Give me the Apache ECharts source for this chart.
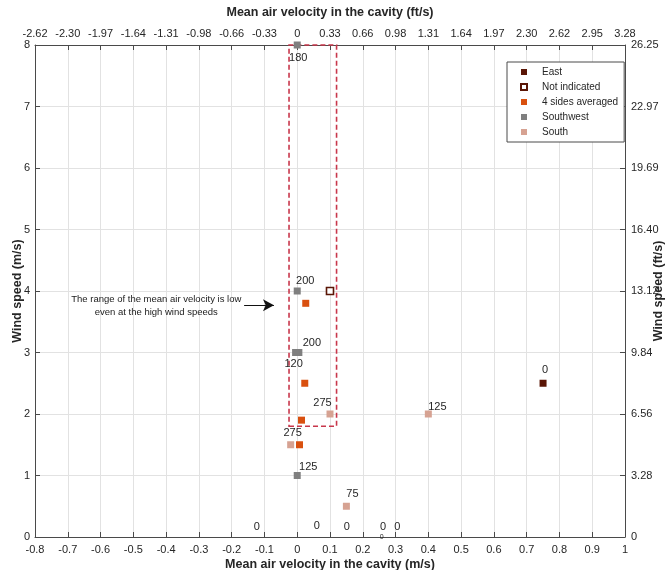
<!DOCTYPE html>
<html>
<head>
<meta charset="utf-8">
<script src="https://cdn.jsdelivr.net/npm/echarts@6/dist/echarts.min.js"></script>
<style>
html,body{margin:0;padding:0;background:#fff;}
#c{width:670px;height:570px;}
</style>
</head>
<body>
<div id="c"></div>
<script>
// ---- data (x: mean air velocity m/s, y: wind speed m/s, label: wind direction) ----
var seriesNames = ['East', 'Not indicated', '4 sides averaged', 'Southwest', 'South'];
var eastX = [0.75];
var eastY = [2.5];
var eastLabels = ['0'];
var notIndicatedX = [0.1];
var notIndicatedY = [4];
var avgX = [0.026, 0.023, 0.013, 0.007];
var avgY = [3.8, 2.5, 1.9, 1.5];
var southwestX = [0, 0, 0.005, -0.005, 0];
var southwestY = [8, 4, 3, 3, 1];
var southwestLabels = ['180', '200', '200', '120', '125'];
var southX = [0.1, 0.4, -0.02, 0.15];
var southY = [2, 2, 1.5, 0.5];
var southLabels = ['275', '125', '275', '75'];
var calmX = [-0.123, 0.06, 0.151, 0.262, 0.305, 0.258];
var calmY = [0, 0, 0, 0, 0, 0];
var calmLabels = ['0', '0', '0', '0', '0', '0'];
// highlighted range box [x0, y0, x1, y1]
var boxRange = [-0.025, 1.8, 0.12, 8];
// annotation arrow [xStart, xEnd, y]
var arrowSpec = [-0.162, -0.071, 3.77];
var noteLines = ['The range of the mean air velocity is low', 'even at the high wind speeds'];
var MS_TO_FTS = 3.28084;

// ---- styles ----
var eastOffsets = [[2, -13]];
var southwestOffsets = [[1, 12.5], [8, -10], [13, -10], [-2, 11], [11, -9]];
var southOffsets = [[-7.5, -11], [9, -7], [2, -12], [6, -12]];
var calmOffsets = [[0, -10], [0, -11], [0, -10], [0, -10], [0, -10], [0, 0]];
var calmFont = [11, 11, 11, 11, 11, 7];

var FONT = 'Liberation Sans, Arial, Helvetica, sans-serif';
var TXT = '#262626';

function pts(xs, ys, labels, offsets, fonts) {
  return xs.map(function (x, i) {
    var d = { value: [x, ys[i]] };
    if (labels) {
      d.label = { show: true, formatter: labels[i], position: 'inside',
        offset: offsets[i], fontSize: fonts ? fonts[i] : 11, color: TXT, fontFamily: FONT,
        textBorderWidth: 0, textBorderColor: 'transparent', opacity: 1 };
    }
    return d;
  });
}

function ftFmt(v) {
  if (Math.abs(v) < 1e-9) return '0';
  return (v * MS_TO_FTS).toFixed(2);
}
function mFmt(v) {
  var r = Math.round(v * 10) / 10;
  return String(r);
}

var chart = echarts.init(document.getElementById('c'), null, { renderer: 'canvas' });
var axisLine = { show: true, onZero: false, lineStyle: { color: '#4a4a4a', width: 1 } };
var axisTick = { show: true, inside: true, length: 5, lineStyle: { color: '#4a4a4a' } };
var lbl = { color: TXT, fontSize: 11, fontFamily: FONT };
var nameStyle = { color: TXT, fontSize: 12.5, fontWeight: 'bold', fontFamily: FONT };

var option = {
  animation: false,
  backgroundColor: '#ffffff',
  textStyle: { fontFamily: FONT },
  grid: { left: 35, right: 45, top: 45, bottom: 33, containLabel: false, outerBoundsMode: 'none' },
  legend: {
    data: seriesNames,
    orient: 'vertical',
    left: 507, top: 62,
    itemWidth: 6, itemHeight: 6, itemGap: 1,
    padding: [3, 6, 3, 13],
    borderColor: '#4a4a4a', borderWidth: 1,
    backgroundColor: '#fff',
    icon: 'rect',
    textStyle: { fontSize: 10, color: TXT, fontFamily: FONT, padding: [0, 0, 0, 10], lineHeight: 14 }
  },
  xAxis: [
    { type: 'value', position: 'bottom', min: -0.8, max: 1, interval: 0.1,
      name: 'Mean air velocity in the cavity (m/s)', nameLocation: 'middle', nameGap: 21,
      nameMoveOverlap: false,
      nameTextStyle: nameStyle,
      axisLine: axisLine, axisTick: axisTick,
      axisLabel: Object.assign({ margin: 7, formatter: mFmt }, lbl),
      splitLine: { show: true, lineStyle: { color: '#e2e2e2' } } },
    { type: 'value', position: 'top', min: -0.8, max: 1, interval: 0.1,
      name: 'Mean air velocity in the cavity (ft/s)', nameLocation: 'middle', nameGap: 26,
      nameMoveOverlap: false,
      nameTextStyle: nameStyle,
      axisLine: axisLine, axisTick: axisTick,
      axisLabel: Object.assign({ margin: 6, formatter: ftFmt }, lbl),
      splitLine: { show: false } }
  ],
  yAxis: [
    { type: 'value', position: 'left', min: 0, max: 8, interval: 1,
      name: 'Wind speed (m/s)', nameLocation: 'middle', nameGap: 11,
      nameMoveOverlap: false,
      nameTextStyle: nameStyle,
      axisLine: axisLine, axisTick: axisTick,
      axisLabel: Object.assign({ margin: 5 }, lbl),
      splitLine: { show: true, lineStyle: { color: '#e2e2e2' } } },
    { type: 'value', position: 'right', min: 0, max: 8, interval: 1,
      name: 'Wind speed (ft/s)', nameLocation: 'middle', nameGap: 27,
      nameMoveOverlap: false,
      nameTextStyle: nameStyle,
      axisLine: axisLine, axisTick: axisTick,
      axisLabel: Object.assign({ margin: 6, formatter: ftFmt }, lbl),
      splitLine: { show: false } }
  ],
  series: [
    { name: 'range-box', type: 'scatter', data: [], silent: true,
      markArea: { silent: true,
        itemStyle: { color: 'rgba(0,0,0,0)', borderColor: '#c8374b', borderWidth: 1.6, borderType: [5, 3] },
        data: [[{ coord: [boxRange[0], boxRange[1]] }, { coord: [boxRange[2], boxRange[3]] }]] } },
    { name: 'calm', type: 'scatter', symbol: 'rect', symbolSize: 0, clip: false, z: 5,
      itemStyle: { color: '#ffffff', opacity: 1 }, data: pts(calmX, calmY, calmLabels, calmOffsets, calmFont) },
    { name: seriesNames[0], type: 'scatter', symbol: 'rect', symbolSize: 7,
      itemStyle: { color: '#5a1606', opacity: 1 }, data: pts(eastX, eastY, eastLabels, eastOffsets) },
    { name: seriesNames[1], type: 'scatter', symbol: 'rect', symbolSize: 7,
      itemStyle: { color: '#ffffff', borderColor: '#5a1606', borderWidth: 1.6, opacity: 1 },
      data: pts(notIndicatedX, notIndicatedY) },
    { name: seriesNames[2], type: 'scatter', symbol: 'rect', symbolSize: 7,
      itemStyle: { color: '#d9500f', opacity: 1 }, data: pts(avgX, avgY) },
    { name: seriesNames[3], type: 'scatter', symbol: 'rect', symbolSize: 7, clip: false,
      itemStyle: { color: '#7f7f7f', opacity: 1 }, data: pts(southwestX, southwestY, southwestLabels, southwestOffsets) },
    { name: seriesNames[4], type: 'scatter', symbol: 'rect', symbolSize: 7,
      itemStyle: { color: '#d6a292', opacity: 1 }, data: pts(southX, southY, southLabels, southOffsets) },
    { name: 'arrow', type: 'line', data: [], silent: true,
      markLine: { silent: true, symbol: ['none', 'arrow'], symbolSize: [9, 11],
        lineStyle: { color: '#111', width: 1, type: 'solid' }, label: { show: false },
        data: [[{ coord: [arrowSpec[0], arrowSpec[2]] }, { coord: [arrowSpec[1], arrowSpec[2]] }]] } }
  ]
};
chart.setOption(option);

// annotation text placed via the axes
var p1 = chart.convertToPixel({ xAxisIndex: 0, yAxisIndex: 0 }, [-0.43, 3.87]);
var p2 = chart.convertToPixel({ xAxisIndex: 0, yAxisIndex: 0 }, [-0.43, 3.65]);
chart.setOption({
  graphic: [
    { type: 'text', x: p1[0], y: p1[1], style: { text: noteLines[0], fill: '#1a1a1a', font: '9.5px ' + FONT, textAlign: 'center', textVerticalAlign: 'middle' } },
    { type: 'text', x: p2[0], y: p2[1], style: { text: noteLines[1], fill: '#1a1a1a', font: '9.5px ' + FONT, textAlign: 'center', textVerticalAlign: 'middle' } }
  ]
});
</script>
</body>
</html>
